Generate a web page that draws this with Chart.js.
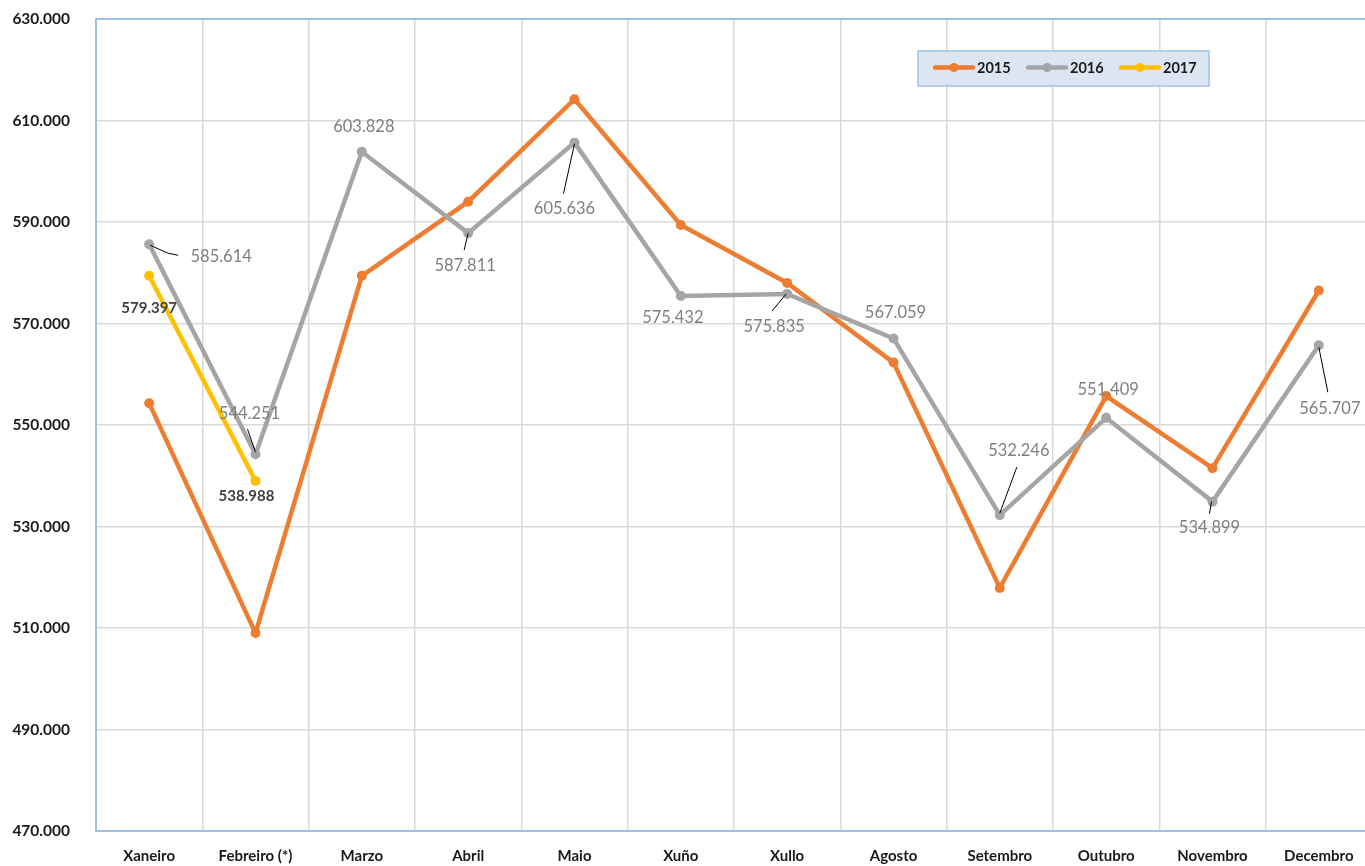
<!DOCTYPE html>
<html>
<head>
<meta charset="utf-8">
<script src="https://cdn.jsdelivr.net/npm/chart.js@4.4.1/dist/chart.umd.min.js"></script>
<style>
  html, body { margin: 0; padding: 0; overflow: hidden; background: #ffffff; }
  #c { position: absolute; left: 0; top: 0; }
</style>
</head>
<body>
<canvas id="c" width="1377" height="866"></canvas>
<script>
// ---- data ----
const categories = ['Xaneiro', 'Febreiro (*)', 'Marzo', 'Abril', 'Maio', 'Xuño', 'Xullo', 'Agosto', 'Setembro', 'Outubro', 'Novembro', 'Decembro'];
const seriesNames = ['2015', '2016', '2017'];
const values2015 = [554300, 509000, 579400, 594000, 614200, 589400, 578000, 562300, 517900, 555700, 541500, 576500];
const values2016 = [585614, 544251, 603828, 587811, 605636, 575432, 575835, 567059, 532246, 551409, 534899, 565707];
const values2017 = [579397, 538988, null, null, null, null, null, null, null, null, null, null];
const yMin = 470000;
const yMax = 630000;
const yStep = 20000;

// ---- styles (label placement, not data) ----
const labelOffsets2016 = [[72,12],[-6,-41],[2,-25],[-3,33],[-10,66],[-8,22],[-13,33],[2,-26],[19,-64],[2,-28],[-3,26],[11,63]];
const leaders2016 = [[[1,1],[19,9],[29,11]], [[0,-2],[-8,-25]], null, [[0,0],[-4,17]], [[0,1],[-11,51]], null, [[-1,0],[-15,17]], null, [[0,-2],[17,-48]], null, [[-1,0],[-3,12]], [[0,2],[9,47]]];
const labelOffsets2017 = [[0,32],[-9,15]];
const colors = ['#ed7d31', '#a5a5a5', '#ffc000'];

function fmt(v) {
  return Math.round(v).toString().replace(/\B(?=(\d{3})+(?!\d))/g, '.');
}

const plotBorder = {
  id: 'plotBorder',
  beforeDatasetsDraw(chart) {
    const a = chart.chartArea, ctx = chart.ctx;
    ctx.save();
    ctx.strokeStyle = '#8db3e2';
    ctx.lineWidth = 1.5;
    ctx.strokeRect(a.left, a.top, a.right - a.left, a.bottom - a.top);
    ctx.restore();
  }
};

const dataLabels = {
  id: 'dataLabels',
  afterDatasetsDraw(chart) {
    const ctx = chart.ctx;
    ctx.save();
    const m16 = chart.getDatasetMeta(1);
    m16.data.forEach((pt, i) => {
      const lead = leaders2016[i];
      if (lead) {
        ctx.strokeStyle = '#000000';
        ctx.lineWidth = 1;
        ctx.beginPath();
        lead.forEach((p, k) => {
          if (k === 0) ctx.moveTo(pt.x + p[0], pt.y + p[1]);
          else ctx.lineTo(pt.x + p[0], pt.y + p[1]);
        });
        ctx.stroke();
      }
    });
    ctx.font = '16.5px Lato';
    ctx.fillStyle = '#7f7f7f';
    ctx.textAlign = 'center';
    ctx.textBaseline = 'middle';
    m16.data.forEach((pt, i) => {
      const o = labelOffsets2016[i];
      ctx.fillText(fmt(values2016[i]), pt.x + o[0], pt.y + o[1]);
    });
    const m17 = chart.getDatasetMeta(2);
    ctx.font = 'bold 15px Lato';
    ctx.fillStyle = '#404040';
    m17.data.forEach((pt, i) => {
      if (values2017[i] === null) return;
      const o = labelOffsets2017[i];
      ctx.fillText(fmt(values2017[i]), pt.x + o[0], pt.y + o[1]);
    });
    ctx.restore();
  }
};

const boxLegend = {
  id: 'boxLegend',
  afterDraw(chart) {
    const ctx = chart.ctx;
    const bx = 918, by = 51, bw = 291, bh = 35;
    ctx.save();
    ctx.fillStyle = '#dce6f2';
    ctx.fillRect(bx, by, bw, bh);
    ctx.strokeStyle = '#9dc3e6';
    ctx.lineWidth = 1.5;
    ctx.strokeRect(bx, by, bw, bh);
    ctx.font = 'bold 14.5px Lato';
    ctx.textBaseline = 'middle';
    ctx.textAlign = 'left';
    chart.data.datasets.forEach((ds, i) => {
      const x0 = bx + 17 + i * 93;
      const yc = by + 16.5;
      ctx.strokeStyle = ds.borderColor;
      ctx.lineWidth = 4.5;
      ctx.lineCap = 'round';
      ctx.beginPath();
      ctx.moveTo(x0, yc);
      ctx.lineTo(x0 + 38, yc);
      ctx.stroke();
      ctx.fillStyle = ds.borderColor;
      ctx.beginPath();
      ctx.arc(x0 + 19, yc, 4.5, 0, Math.PI * 2);
      ctx.fill();
      ctx.fillStyle = '#1a1a1a';
      ctx.fillText(ds.label, x0 + 42, yc + 1);
    });
    ctx.restore();
  }
};

function mkDataset(label, data, color, order) {
  return {
    label: label,
    data: data,
    borderColor: color,
    backgroundColor: color,
    borderWidth: 4.5,
    pointRadius: 5,
    pointHoverRadius: 5,
    pointBackgroundColor: color,
    pointBorderColor: color,
    pointBorderWidth: 0,
    tension: 0,
    fill: false,
    spanGaps: false,
    order: order
  };
}

new Chart(document.getElementById('c'), {
  type: 'line',
  data: {
    labels: categories,
    datasets: [
      mkDataset(seriesNames[0], values2015, colors[0], 3),
      mkDataset(seriesNames[1], values2016, colors[1], 2),
      mkDataset(seriesNames[2], values2017, colors[2], 1)
    ]
  },
  options: {
    responsive: false,
    maintainAspectRatio: false,
    devicePixelRatio: 1,
    animation: false,
    layout: { padding: { top: 19, right: 1, left: 0, bottom: 0 } },
    plugins: {
      legend: { display: false },
      tooltip: { enabled: false }
    },
    scales: {
      x: {
        offset: true,
        grid: { offset: true, color: '#d9d9d9', lineWidth: 1.5, drawTicks: false },
        border: { display: false },
        ticks: {
          padding: 16,
          color: '#1a1a1a',
          font: { family: 'Lato', size: 15, weight: 'bold' },
          maxRotation: 0,
          autoSkip: false
        },
        afterFit(scale) { scale.height = 35; scale.paddingLeft = 0; scale.paddingRight = 0; }
      },
      y: {
        min: yMin,
        max: yMax,
        grid: { color: '#d9d9d9', lineWidth: 1.5, drawTicks: false },
        border: { display: false },
        ticks: {
          stepSize: yStep,
          padding: 26,
          color: '#1a1a1a',
          font: { family: 'Lato', size: 15.5, weight: 'bold' },
          callback: (v) => fmt(v)
        },
        afterFit(scale) { scale.width = 96; scale.paddingTop = 0; scale.paddingBottom = 0; }
      }
    }
  },
  plugins: [plotBorder, dataLabels, boxLegend]
});
</script>
</body>
</html>
